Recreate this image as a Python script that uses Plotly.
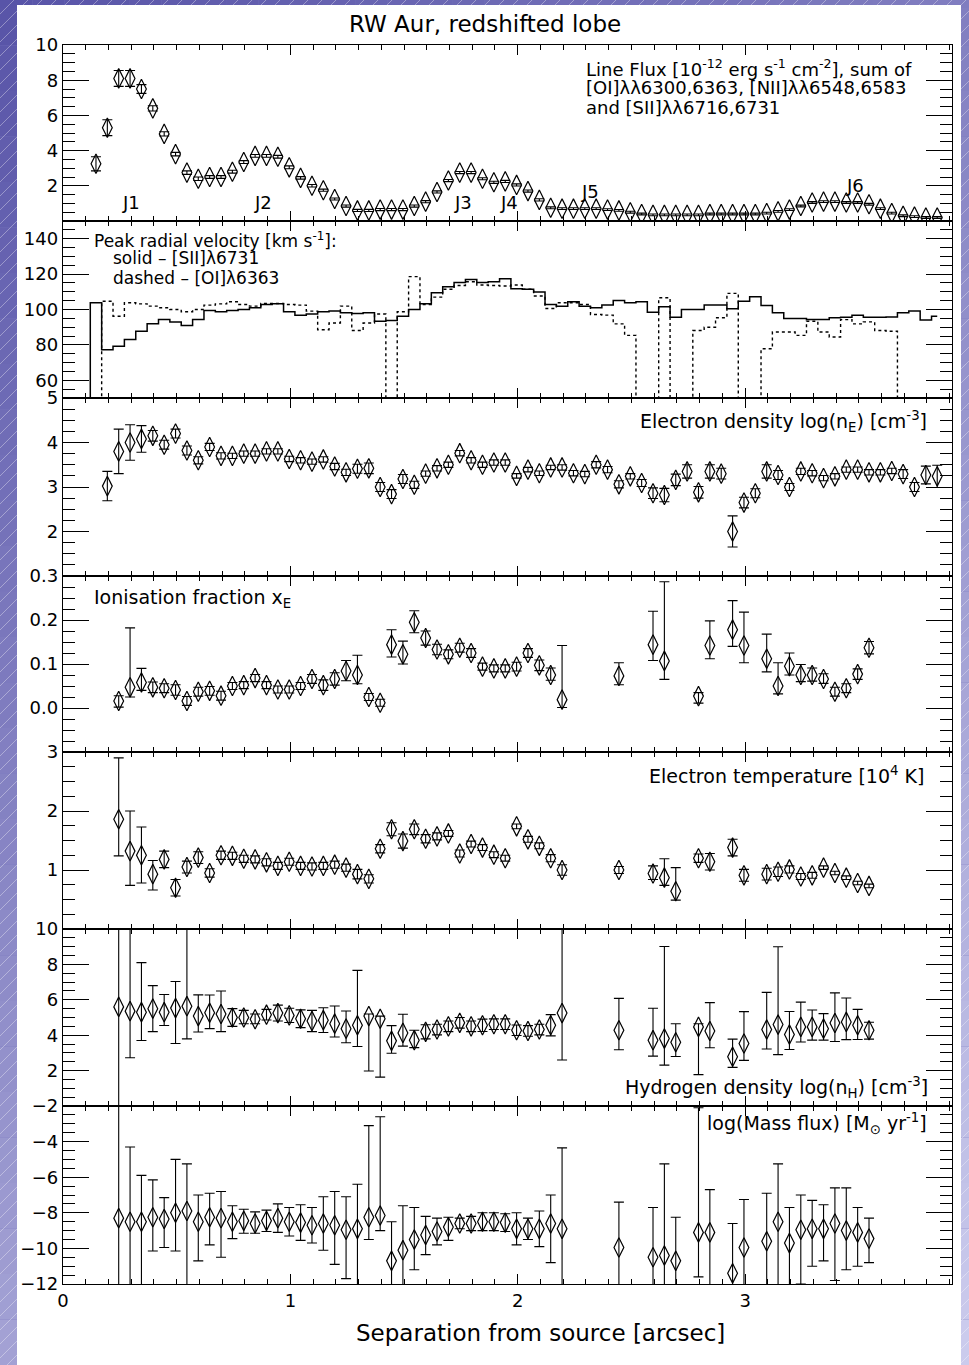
import plotly.graph_objects as go

W, H = 969, 1365

# ---------------- data ----------------
x_start = 0.145   # arcsec, first sample position
x_step = 0.05     # arcsec, sampling interval
n_pts = 75
sep = [round(x_start + x_step * i, 4) for i in range(n_pts)]

# Panel 1: line flux [1e-12 erg/s/cm2]
flux = [3.25, 5.3, 8.1, 8.1, 7.5, 6.4, 4.95, 3.8, 2.75, 2.4,
        2.5, 2.5, 2.8, 3.35, 3.7, 3.7, 3.65, 3.05, 2.45, 2.0,
        1.75, 1.25, 0.85, 0.6, 0.6, 0.65, 0.65, 0.65, 0.85, 1.1,
        1.65, 2.3, 2.75, 2.75, 2.4, 2.2, 2.25, 2.05, 1.7, 1.2,
        0.75, 0.7, 0.7, 0.7, 0.7, 0.65, 0.6, 0.5, 0.4, 0.35,
        0.35, 0.35, 0.35, 0.35, 0.4, 0.4, 0.4, 0.4, 0.4, 0.45,
        0.55, 0.65, 0.85, 1.05, 1.1, 1.1, 1.05, 1.05, 0.95, 0.7,
        0.45, 0.3, 0.25, 0.2, 0.2]
flux_err = [0.4, 0.45, 0.45, 0.45, 0.25, 0.15, 0.12, 0.1, 0.1, 0.1,
            0.08, 0.08, 0.08, 0.08, 0.08, 0.08, 0.08, 0.08, 0.07, 0.07,
            0.06, 0.06, 0.06, 0.06, 0.06, 0.06, 0.06, 0.06, 0.06, 0.06,
            0.06, 0.06, 0.06, 0.06, 0.06, 0.06, 0.06, 0.06, 0.06, 0.06,
            0.05, 0.05, 0.05, 0.05, 0.05, 0.05, 0.05, 0.05, 0.05, 0.05,
            0.05, 0.05, 0.05, 0.05, 0.05, 0.05, 0.05, 0.05, 0.05, 0.05,
            0.05, 0.05, 0.05, 0.05, 0.05, 0.05, 0.05, 0.05, 0.05, 0.05,
            0.05, 0.05, 0.05, 0.05, 0.05]

# Panel 2: peak radial velocity [km/s]; sampled from one step before the first point
# (0 = no measurement, falls below the plotted range)
vel_sii = [0,
           103.8, 77.3, 79.2, 83.0, 87.7, 92.0, 94.3, 93.0, 90.9, 94.3,
           99.4, 98.7, 99.4, 100.0, 101.0, 102.8, 103.2, 98.7, 96.8, 97.5,
           98.7, 99.1, 98.1, 97.7, 98.1, 93.4, 93.8, 96.2, 100.0, 103.2,
           109.5, 112.9, 115.2, 117.0, 115.2, 115.7, 117.4, 111.7, 111.4, 109.9,
           102.8, 101.9, 104.4, 101.9, 101.0, 102.5, 105.1, 103.8, 104.4, 98.5,
           101.5, 95.6, 100.0, 100.0, 102.5, 102.5, 100.4, 104.7, 107.2, 102.3,
           98.1, 94.9, 94.9, 94.3, 94.3, 95.3, 95.6, 96.8, 95.6, 95.6,
           95.8, 98.1, 99.1, 94.0, 96.2]
vel_oi = [None,
          0, 104.7, 96.2, 103.8, 103.2, 101.9, 101.0, 100.0, 98.7, 100.0,
          102.5, 103.2, 104.4, 102.8, 101.9, 103.4, 103.4, 102.8, 102.5, 99.1,
          88.6, 92.4, 101.9, 88.1, 92.4, 97.5, 0, 98.7, 118.6, 102.8,
          107.0, 111.4, 113.6, 115.7, 113.8, 113.6, 113.3, 113.8, 111.4, 107.6,
          100.6, 103.8, 103.8, 102.8, 97.2, 96.8, 91.9, 85.4, 0, 0,
          106.6, 0, 0, 88.1, 90.0, 95.3, 109.1, 0, 0, 77.8,
          87.3, 87.3, 85.4, 93.4, 87.3, 84.5, 94.3, 91.9, 93.0, 88.1,
          87.7, 0, None, None, None]

# Panel 3: electron density log(nE)
ne = [None, 3.02, 3.8, 4.0, 4.08, 4.15, 3.95, 4.2, 3.82, 3.6,
      3.9, 3.7, 3.7, 3.75, 3.75, 3.8, 3.8, 3.63, 3.6, 3.57,
      3.62, 3.46, 3.33, 3.41, 3.42, 3.0, 2.84, 3.18, 3.05, 3.3,
      3.42, 3.5, 3.76, 3.6, 3.5, 3.55, 3.55, 3.25, 3.39, 3.31,
      3.44, 3.44, 3.31, 3.29, 3.5, 3.39, 3.06, 3.24, 3.09, 2.86,
      2.82, 3.16, 3.35, 2.88, 3.35, 3.3, 2.0, 2.65, 2.86, 3.35,
      3.27, 3.0, 3.35, 3.31, 3.2, 3.24, 3.39, 3.39, 3.33, 3.33,
      3.36, 3.29, 3.0, 3.27, 3.24]
ne_err = [None, 0.33, 0.5, 0.4, 0.3, 0.12, 0.1, 0.1, 0.1, 0.08,
          0.08, 0.07, 0.06, 0.06, 0.06, 0.06, 0.06, 0.06, 0.06, 0.06,
          0.06, 0.07, 0.07, 0.1, 0.12, 0.1, 0.1, 0.1, 0.08, 0.06,
          0.06, 0.06, 0.06, 0.06, 0.06, 0.06, 0.06, 0.05, 0.05, 0.05,
          0.05, 0.06, 0.06, 0.06, 0.07, 0.07, 0.08, 0.06, 0.08, 0.12,
          0.15, 0.13, 0.15, 0.13, 0.15, 0.12, 0.35, 0.12, 0.1, 0.15,
          0.1, 0.08, 0.07, 0.06, 0.06, 0.06, 0.06, 0.06, 0.06, 0.06,
          0.06, 0.1, 0.1, 0.2, 0.25]

# Panel 4: ionisation fraction xE
xe = [None, None, 0.016, 0.047, 0.058, 0.047, 0.045, 0.041, 0.016, 0.037,
      0.039, 0.028, 0.05, 0.052, 0.068, 0.052, 0.042, 0.042, 0.05, 0.066,
      0.052, 0.066, 0.084, 0.075, 0.025, 0.012, 0.144, 0.122, 0.195, 0.159,
      0.133, 0.122, 0.137, 0.125, 0.094, 0.09, 0.09, 0.094, 0.125, 0.097,
      0.075, 0.019, None, None, None, None, 0.073, None, None, 0.144,
      0.107, None, None, 0.027, 0.142, None, 0.178, 0.142, None, 0.112,
      0.05, 0.095, 0.075, 0.075, 0.066, 0.037, 0.045, 0.077, 0.137, None,
      None, None, None, None, None]
xe_up = [None, None, 0.012, 0.135, 0.032, 0.012, 0.01, 0.012, 0.01, 0.01,
         0.01, 0.01, 0.008, 0.008, 0.008, 0.008, 0.008, 0.008, 0.008, 0.01,
         0.012, 0.014, 0.024, 0.045, 0.008, 0.008, 0.034, 0.03, 0.026, 0.016,
         0.012, 0.01, 0.01, 0.01, 0.008, 0.008, 0.008, 0.01, 0.01, 0.012,
         0.016, 0.123, None, None, None, None, 0.03, None, None, 0.076,
         0.18, None, None, 0.008, 0.056, None, 0.066, 0.076, None, 0.056,
         0.053, 0.03, 0.024, 0.016, 0.012, 0.01, 0.01, 0.012, 0.014, None,
         None, None, None, None, None]
xe_dn = [None, None, 0.014, 0.022, 0.018, 0.012, 0.01, 0.012, 0.01, 0.01,
         0.01, 0.01, 0.008, 0.008, 0.008, 0.008, 0.008, 0.008, 0.008, 0.01,
         0.012, 0.014, 0.022, 0.02, 0.008, 0.008, 0.028, 0.022, 0.024, 0.016,
         0.012, 0.01, 0.01, 0.01, 0.008, 0.008, 0.008, 0.01, 0.01, 0.012,
         0.012, 0.018, None, None, None, None, 0.02, None, None, 0.036,
         0.042, None, None, 0.016, 0.03, None, 0.038, 0.039, None, 0.03,
         0.018, 0.02, 0.015, 0.014, 0.01, 0.01, 0.01, 0.012, 0.014, None,
         None, None, None, None, None]

# Panel 5: electron temperature [1e4 K]
te = [None, None, 1.86, 1.32, 1.25, 0.93, 1.18, 0.70, 1.05, 1.21,
      0.95, 1.25, 1.24, 1.19, 1.18, 1.13, 1.07, 1.14, 1.07, 1.06,
      1.07, 1.09, 1.04, 0.93, 0.85, 1.36, 1.69, 1.49, 1.69, 1.53,
      1.57, 1.62, 1.28, 1.44, 1.38, 1.26, 1.2, 1.74, 1.52, 1.41,
      1.2, 1.0, None, None, None, None, 1.0, None, None, 0.94,
      0.87, 0.64, None, 1.2, 1.14, None, 1.38, 0.91, None, 0.93,
      0.97, 1.01, 0.89, 0.91, 1.04, 0.95, 0.87, 0.78, 0.73, None,
      None, None, None, None, None]
te_up = [None, None, 1.04, 0.68, 0.48, 0.23, 0.14, 0.14, 0.1, 0.1,
         0.07, 0.07, 0.06, 0.06, 0.06, 0.06, 0.06, 0.06, 0.06, 0.06,
         0.06, 0.06, 0.06, 0.08, 0.07, 0.07, 0.11, 0.12, 0.09, 0.07,
         0.06, 0.05, 0.06, 0.05, 0.05, 0.05, 0.05, 0.04, 0.05, 0.05,
         0.06, 0.09, None, None, None, None, 0.06, None, None, 0.13,
         0.32, 0.4, None, 0.07, 0.14, None, 0.14, 0.1, None, 0.1,
         0.08, 0.06, 0.05, 0.05, 0.03, 0.03, 0.03, 0.03, 0.03, None,
         None, None, None, None, None]
te_dn = [None, None, 0.62, 0.58, 0.47, 0.27, 0.14, 0.14, 0.1, 0.1,
         0.07, 0.07, 0.06, 0.06, 0.06, 0.06, 0.06, 0.06, 0.06, 0.06,
         0.06, 0.06, 0.06, 0.08, 0.07, 0.07, 0.11, 0.12, 0.09, 0.07,
         0.06, 0.05, 0.06, 0.05, 0.05, 0.05, 0.05, 0.04, 0.05, 0.05,
         0.06, 0.09, None, None, None, None, 0.06, None, None, 0.1,
         0.13, 0.15, None, 0.07, 0.14, None, 0.14, 0.1, None, 0.1,
         0.08, 0.06, 0.05, 0.05, 0.03, 0.03, 0.03, 0.03, 0.03, None,
         None, None, None, None, None]

# Panel 6: hydrogen density log(nH)
nh = [None, None, 5.6, 5.36, 5.3, 5.5, 5.3, 5.53, 5.64, 5.08,
      5.27, 5.2, 5.0, 5.0, 4.9, 5.16, 5.25, 5.12, 4.93, 4.8,
      4.85, 4.65, 4.37, 4.56, 5.08, 4.93, 3.68, 4.13, 3.72, 4.19,
      4.32, 4.5, 4.7, 4.5, 4.56, 4.62, 4.62, 4.28, 4.24, 4.32,
      4.56, 5.25, None, None, None, None, 4.28, None, None, 3.72,
      3.81, 3.6, None, 4.47, 4.24, None, 2.78, 3.53, None, 4.32,
      4.6, 4.04, 4.47, 4.47, 4.37, 4.69, 4.75, 4.56, 4.28, None,
      None, None, None, None, None]
nh_up = [None, None, 4.8, 6.0, 2.8, 1.3, 1.0, 1.5, 6.0, 1.2,
         1.0, 1.3, 0.5, 0.4, 0.3, 0.3, 0.45, 0.4, 0.5, 0.6,
         0.7, 1.0, 1.0, 3.1, 0.12, 0.15, 0.86, 1.05, 0.56, 0.4,
         0.3, 0.3, 0.3, 0.3, 0.35, 0.3, 0.3, 0.3, 0.3, 0.3,
         0.6, 6.0, None, None, None, None, 1.8, None, None, 1.8,
         5.2, 1.05, None, 0.18, 1.6, None, 1.0, 1.8, None, 2.1,
         4.4, 1.3, 1.4, 0.95, 0.85, 1.7, 1.35, 0.9, 0.45, None,
         None, None, None, None, None]
nh_dn = [None, None, 6.0, 2.63, 1.6, 1.3, 0.75, 2.0, 1.85, 0.9,
         0.9, 1.0, 0.5, 0.35, 0.25, 0.3, 0.45, 0.4, 0.5, 0.6,
         0.7, 0.75, 0.8, 1.2, 3.1, 3.3, 0.7, 0.75, 0.42, 0.4,
         0.3, 0.3, 0.3, 0.3, 0.35, 0.3, 0.3, 0.3, 0.3, 0.3,
         0.6, 2.65, None, None, None, None, 1.1, None, None, 0.9,
         1.5, 0.8, None, 2.7, 0.95, None, 0.6, 0.95, None, 1.1,
         1.7, 0.85, 0.85, 0.75, 0.65, 1.05, 1.0, 0.8, 0.5, None,
         None, None, None, None, None]

# Panel 7: log mass flux [Msun/yr]
mf = [None, None, -8.3, -8.5, -8.5, -8.25, -8.35, -8.0, -7.9, -8.5,
      -8.25, -8.3, -8.5, -8.45, -8.6, -8.45, -8.3, -8.5, -8.55, -8.7,
      -8.6, -8.7, -8.95, -8.9, -8.25, -8.15, -10.7, -10.1, -9.5, -9.25,
      -9.05, -8.8, -8.6, -8.6, -8.5, -8.5, -8.55, -8.9, -8.9, -8.9,
      -8.6, -8.9, None, None, None, None, -9.95, None, None, -10.5,
      -10.4, -10.7, None, -9.1, -9.1, None, -11.4, -9.95, None, -9.6,
      -8.5, -9.7, -8.95, -8.9, -8.9, -8.6, -9.0, -9.1, -9.45, None,
      None, None, None, None, None]
mf_up = [None, None, 8, 4.2, 2.6, 2.1, 1.2, 3.0, 2.65, 1.5,
         1.35, 1.5, 0.9, 0.65, 0.65, 0.6, 0.8, 0.8, 1.0, 1.0,
         1.5, 1.9, 1.85, 2.5, 5.15, 5.55, 2.2, 2.5, 1.8, 1.05,
         0.75, 0.55, 0.3, 0.4, 0.5, 0.5, 0.5, 0.9, 0.6, 1.0,
         1.6, 4.55, None, None, None, None, 2.55, None, None, 2.8,
         5.15, 2.45, None, 7, 2.4, None, 2.8, 2.7, None, 2.7,
         3.25, 2.0, 1.95, 1.6, 1.35, 2.0, 2.4, 1.4, 1.15, None,
         None, None, None, None, None]
mf_dn = [None, None, 8, 8, 8, 1.9, 1.6, 2.15, 8, 2.2,
         1.55, 2.2, 0.95, 0.7, 0.55, 0.6, 0.8, 0.8, 1.0, 1.0,
         1.5, 2.2, 2.75, 8, 1.25, 0.85, 8, 8, 1.7, 1.1,
         0.75, 0.75, 0.3, 0.4, 0.5, 0.5, 0.5, 0.9, 0.6, 1.0,
         2.2, 8, None, None, None, None, 8, None, None, 8,
         8, 8, None, 2.5, 8, None, 8, 8, None, 8,
         8, 8, 3.05, 2.1, 1.8, 3.2, 2.2, 1.9, 1.35, None,
         None, None, None, None, None]

for arr in (flux, flux_err, ne, ne_err, xe, xe_up, xe_dn, te, te_up, te_dn,
            nh, nh_up, nh_dn, mf, mf_up, mf_dn):
    assert len(arr) == n_pts, len(arr)
assert len(vel_sii) == n_pts + 1 and len(vel_oi) == n_pts + 1

vel_x = [round(sep[0] - x_step, 4)] + sep

# y-axis settings per panel: range, labelled ticks, minor step
y_ranges = [[0, 10], [50, 150], [1, 5], [-0.1, 0.3], [0, 3], [0, 10], [-12, -2]]
y_ticks = [[2, 4, 6, 8, 10], [60, 80, 100, 120, 140], [2, 3, 4, 5],
           [0.0, 0.1, 0.2, 0.3], [1, 2, 3], [2, 4, 6, 8, 10],
           [-12, -10, -8, -6, -4, -2]]
y_minor = [0.5, 5, 0.25, 0.025, 0.25, 0.5, 0.5]
y_fmt = ["", "", "", ".1f", "", "", ""]

# ---------------- layout geometry (pixels) ----------------
PL, PR = 63, 952
panel_px = [(45, 221), (221, 398), (398, 576), (576, 752), (752, 929), (929, 1106), (1106, 1284)]
X_RANGE = [0, 3.91]

FONT = "DejaVu Sans, Liberation Sans, Arial"


def fx(p):
    return p / W


def fy(p):
    return 1 - p / H


fig = go.Figure()


def ax_names(k):
    return ("x" if k == 1 else f"x{k}", "y" if k == 1 else f"y{k}")


marker = dict(symbol="diamond-tall-open", size=14, color="black", line=dict(width=1.2, color="black"))


def err(plus, minus=None):
    d = dict(type="data", array=plus, color="black", thickness=1.1, width=5, visible=True)
    if minus is None:
        d["symmetric"] = True
    else:
        d["symmetric"] = False
        d["arrayminus"] = minus
    return d


xa, ya = ax_names(1)
fig.add_trace(go.Scatter(x=sep, y=flux, mode="markers", marker=marker,
                         error_y=err(flux_err), xaxis=xa, yaxis=ya))
xa, ya = ax_names(2)
fig.add_trace(go.Scatter(x=vel_x, y=vel_oi, mode="lines", line=dict(shape="hvh", color="black", width=1.4, dash="dot"),
                         xaxis=xa, yaxis=ya, connectgaps=False))
fig.add_trace(go.Scatter(x=vel_x, y=vel_sii, mode="lines", line=dict(shape="hvh", color="black", width=1.5),
                         xaxis=xa, yaxis=ya))
for k, (vals, up, dn) in zip(range(3, 8), [(ne, ne_err, None), (xe, xe_up, xe_dn), (te, te_up, te_dn),
                                          (nh, nh_up, nh_dn), (mf, mf_up, mf_dn)]):
    xa, ya = ax_names(k)
    fig.add_trace(go.Scatter(x=sep, y=vals, mode="markers", marker=marker,
                             error_y=err(up, dn), xaxis=xa, yaxis=ya))

layout = {}
for k in range(1, 8):
    top, bot = panel_px[k - 1]
    xkey = "xaxis" if k == 1 else f"xaxis{k}"
    ykey = "yaxis" if k == 1 else f"yaxis{k}"
    xa, ya = ax_names(k)
    layout[xkey] = dict(
        domain=[fx(PL), fx(PR)], range=X_RANGE, anchor=ya, automargin=False,
        showline=True, linecolor="black", linewidth=1.2, mirror="ticks",
        ticks="inside", ticklen=10, tickwidth=1, tickcolor="black",
        tickmode="linear", tick0=0, dtick=1,
        minor=dict(ticks="inside", ticklen=5, tickwidth=1, tickcolor="black", tickmode="linear", tick0=0, dtick=0.1),
        showgrid=False, zeroline=False, fixedrange=True,
        showticklabels=(k == 7),
        tickfont=dict(family=FONT, size=18, color="black"),
    )
    layout[ykey] = dict(
        domain=[fy(bot), fy(top)], range=y_ranges[k - 1], anchor=xa, automargin=False,
        showline=True, linecolor="black", linewidth=1.2, mirror="ticks",
        ticks="inside", ticklen=26, tickwidth=1, tickcolor="black",
        tickmode="array", tickvals=y_ticks[k - 1],
        tickformat=y_fmt[k - 1],
        minor=dict(ticks="inside", ticklen=12, tickwidth=1, tickcolor="black",
                   tickmode="linear", tick0=0, dtick=y_minor[k - 1]),
        showgrid=False, zeroline=False, fixedrange=True,
        tickfont=dict(family=FONT, size=18, color="black"),
    )

# ---------------- background (slide frame) ----------------
shapes = []
dark = (88, 84, 168)
light = (205, 205, 238)


def grad(xp, yp):
    t = min(1.0, max(0.0, 0.35 * xp / W + 0.65 * yp / H))
    return "rgb({},{},{})".format(*[int(dark[i] + (light[i] - dark[i]) * t) for i in range(3)])


nb = 30
for j in range(nb):
    y0, y1 = H * j / nb, H * (j + 1) / nb
    shapes.append(dict(type="rect", xref="paper", yref="paper", x0=0, x1=fx(20), y0=fy(y1), y1=fy(y0),
                       fillcolor=grad(8, (y0 + y1) / 2), line=dict(width=0), layer="below"))
    shapes.append(dict(type="rect", xref="paper", yref="paper", x0=fx(955), x1=1, y0=fy(y1), y1=fy(y0),
                       fillcolor=grad(965, (y0 + y1) / 2), line=dict(width=0), layer="below"))
for j in range(nb):
    x0, x1 = W * j / nb, W * (j + 1) / nb
    shapes.append(dict(type="rect", xref="paper", yref="paper", x0=fx(x0), x1=fx(x1), y0=fy(8), y1=1,
                       fillcolor=grad((x0 + x1) / 2, 3), line=dict(width=0), layer="below"))
# diagonal hatch
sp = 14
xs = -H
while xs < W:
    shapes.append(dict(type="line", xref="paper", yref="paper", x0=fx(xs), y0=fy(H), x1=fx(xs + H), y1=fy(0),
                       line=dict(color="rgba(255,255,255,0.35)", width=1), layer="below"))
    xs += sp
# white page
shapes.append(dict(type="rect", xref="paper", yref="paper", x0=fx(17), x1=fx(961), y0=0, y1=fy(5),
                   fillcolor="white", line=dict(width=0), layer="below"))

# ---------------- text ----------------
ann = []


def text(s, xp, yp, size=19, anchor="left"):
    ann.append(dict(text=s, x=fx(xp), y=fy(yp), xref="paper", yref="paper", xanchor=anchor, yanchor="middle",
                    showarrow=False, font=dict(family=FONT, size=size, color="black")))


text("RW Aur, redshifted lobe", 485, 24, size=23, anchor="center")
text("Line Flux [10<sup>-12</sup> erg s<sup>-1</sup> cm<sup>-2</sup>], sum of", 584, 68, size=18)
text("[OI]λλ6300,6363, [NII]λλ6548,6583", 584, 88, size=18)
text("and [SII]λλ6716,6731", 584, 108, size=18)
for lab, xp, yp in [("J1", 131, 202), ("J2", 263, 202), ("J3", 463, 202), ("J4", 509, 202),
                    ("J5", 590, 192), ("J6", 855, 186)]:
    text(lab, xp, yp, size=18, anchor="center")
text("Peak radial velocity [km s<sup>-1</sup>]:", 92, 240, size=17)
text("solid – [SII]λ6731", 111, 258, size=17)
text("dashed – [OI]λ6363", 111, 278, size=17)
text("Electron density log(n<sub>E</sub>) [cm<sup>-3</sup>]", 929, 421, anchor="right")
text("Ionisation fraction x<sub>E</sub>", 92, 598)
text("Electron temperature [10<sup>4</sup> K]", 926, 775, anchor="right")
text("Hydrogen density log(n<sub>H</sub>) [cm<sup>-3</sup>]", 930, 1087, anchor="right")
text("log(Mass flux) [M<sub>⊙</sub> yr<sup>-1</sup>]", 929, 1123, anchor="right")
text("Separation from source [arcsec]", 540, 1333, size=23, anchor="center")

fig.update_layout(
    width=W, height=H,
    autosize=False,
    margin=dict(l=0, r=0, t=0, b=0, pad=0),
    paper_bgcolor="rgb(120,118,190)",
    plot_bgcolor="rgba(0,0,0,0)",
    showlegend=False,
    hovermode=False,
    shapes=shapes,
    annotations=ann,
    **layout,
)

fig.write_html("out.html", config={"displayModeBar": False, "staticPlot": True},
               post_script="document.body.style.margin='0';document.body.style.overflow='hidden';")
